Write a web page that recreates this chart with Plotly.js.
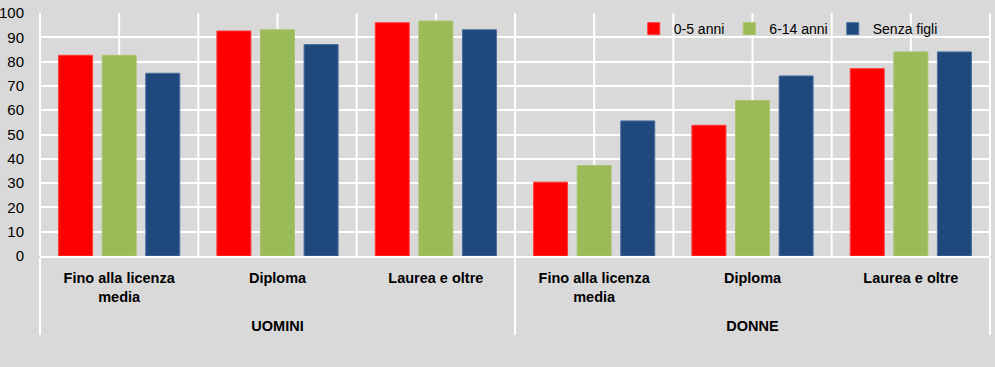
<!DOCTYPE html>
<html>
<head>
<meta charset="utf-8">
<script src="https://cdn.plot.ly/plotly-3.0.1.min.js"></script>
<style>html,body{margin:0;padding:0;background:#d9d9d9;}#chart{width:995px;height:367px;}</style>
</head>
<body>
<div id="chart"></div>
<script>
var groups = ["UOMINI", "UOMINI", "UOMINI", "DONNE", "DONNE", "DONNE"];
var levels = ["Fino alla licenza<br>media", "Diploma", "Laurea e oltre", "Fino alla licenza<br>media", "Diploma", "Laurea e oltre"];
var seriesNames = ["0-5 anni", "6-14 anni", "Senza figli"];
var val0_5 = [82.6, 92.6, 96.0, 30.4, 53.8, 77.1];
var val6_14 = [82.6, 93.1, 96.7, 37.2, 64.0, 84.0];
var valSenza = [75.2, 87.0, 93.1, 55.6, 74.1, 84.0];
var colors = ["#ff0000", "#9bbb59", "#1f497d"];
var lineColors = ["#ff3b3b", "#a9c46f", "#4a6fa0"];
var yTicks = [0, 10, 20, 30, 40, 50, 60, 70, 80, 90, 100];

var seriesValues = [val0_5, val6_14, valSenza];
// group labels pushed one line lower, as in the original layout
var groupLabels = groups.map(function (g) { return "<br>" + g; });
var traces = seriesValues.map(function (v, i) {
  return {
    type: "bar",
    name: seriesNames[i],
    x: [groupLabels, levels],
    y: v,
    marker: {color: colors[i], line: {color: lineColors[i], width: 1}},
    hoverinfo: "y"
  };
});

// vertical white grid lines at every category centre and boundary
var nCat = levels.length;
var shapes = [];
for (var k = 0; k <= 2 * nCat; k++) {
  shapes.push({
    type: "line", layer: "below",
    xref: "x domain", yref: "y domain",
    x0: k / (2 * nCat), x1: k / (2 * nCat), y0: 0, y1: 1,
    line: {color: "#ffffff", width: 2}
  });
}

var layout = {
  width: 995,
  height: 367,
  paper_bgcolor: "#d9d9d9",
  plot_bgcolor: "#d9d9d9",
  margin: {l: 40, r: 5, t: 13, b: 111, pad: 0},
  barmode: "group",
  bargap: 0.174,
  bargroupgap: 0.22,
  font: {family: "Liberation Sans, Arial, sans-serif", size: 14, color: "#000000"},
  showlegend: true,
  shapes: shapes,
  legend: {
    orientation: "h",
    x: 0.625, xanchor: "left",
    y: 0.934, yanchor: "middle",
    bgcolor: "rgba(0,0,0,0)",
    font: {family: "Liberation Sans, Arial, sans-serif", size: 14, color: "#000000"},
    itemclick: false
  },
  xaxis: {
    type: "multicategory",
    range: [-0.5, 5.5],
    showgrid: false,
    showline: true,
    linecolor: "#ffffff",
    linewidth: 2,
    ticks: "",
    ticklabelstandoff: 8,
    showdividers: true,
    dividercolor: "#ffffff",
    dividerwidth: 1.5,
    tickfont: {family: "Liberation Sans, Arial, sans-serif", size: 14.5, color: "#000000", weight: "bold"},
    zeroline: false
  },
  yaxis: {
    range: [0, 100],
    tickvals: yTicks,
    ticktext: yTicks.map(String),
    showgrid: true,
    gridcolor: "#ffffff",
    gridwidth: 2,
    zeroline: false,
    showline: false,
    ticks: "outside",
    ticklen: 12,
    tickcolor: "rgba(0,0,0,0)",
    tickfont: {family: "Liberation Sans, Arial, sans-serif", size: 15, color: "#000000"}
  }
};

Plotly.newPlot("chart", traces, layout, {displayModeBar: false, staticPlot: true});
</script>
</body>
</html>
